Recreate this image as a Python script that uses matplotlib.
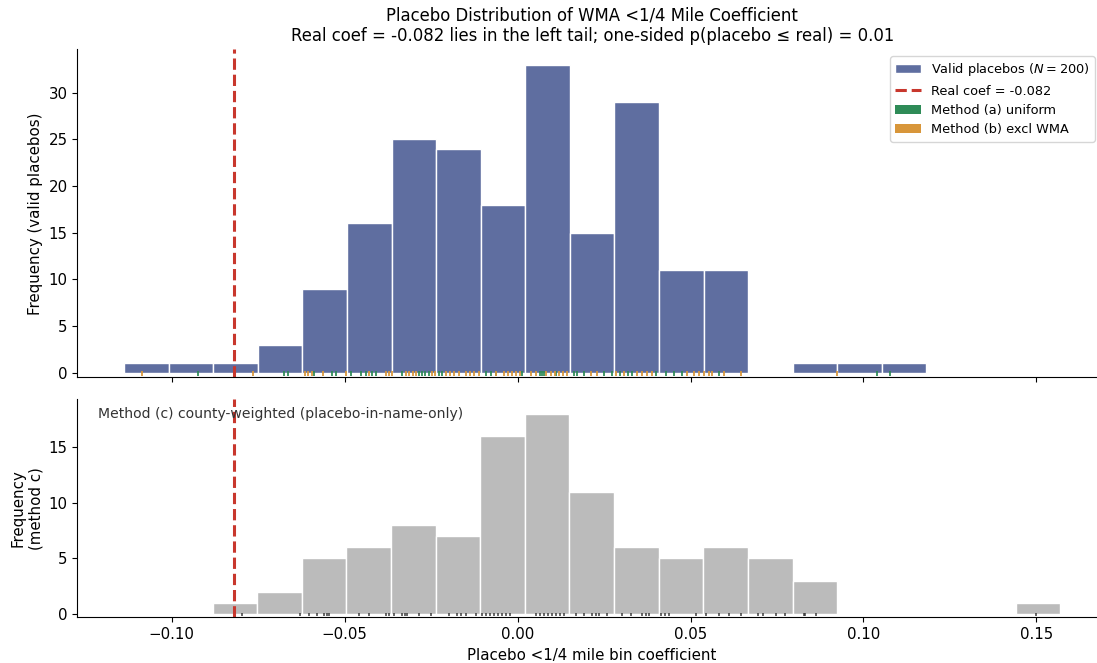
import matplotlib
matplotlib.use('Agg')
import matplotlib.pyplot as plt
import numpy as np
from matplotlib.patches import Patch
from matplotlib.lines import Line2D

# histogram of valid placebos (18 equal bins)
top_lo, top_hi = -0.1138, 0.1182
top_counts = [1, 1, 1, 3, 9, 16, 25, 24, 18, 33, 15, 29, 11, 11, 0, 1, 1, 1]

# method (c) county-weighted histogram (19 equal bins)
bot_lo, bot_hi = -0.0882, 0.1569
bot_counts = [1, 2, 5, 6, 8, 7, 16, 18, 11, 6, 5, 6, 5, 3, 0, 0, 0, 0, 1]

real_coef = -0.082

# rug values
rug_a = [-0.0923, -0.0677, -0.0664, -0.0590, -0.0538, -0.0526, -0.0483, -0.0454,
         -0.0439, -0.0422, -0.0410, -0.0335, -0.0286, -0.0277, -0.0268, -0.0257,
         -0.0228, -0.0219, -0.0092, -0.0077, -0.0063, 0.0012, 0.0065, 0.0070,
         0.0076, 0.0111, 0.0163, 0.0172, 0.0192, 0.0250, 0.0273, 0.0296, 0.0319,
         0.0331, 0.0400, 0.0429, 0.0453, 0.0476, 0.0583, 0.1040, 0.1078]
rug_b = [-0.1087, -0.0766, -0.0616, -0.0607, -0.0596, -0.0564, -0.0497, -0.0431,
         -0.0381, -0.0372, -0.0364, -0.0323, -0.0315, -0.0303, -0.0294, -0.0248,
         -0.0239, -0.0208, -0.0196, -0.0184, -0.0170, -0.0150, -0.0138, -0.0127,
         -0.0112, -0.0063, -0.0040, -0.0028, -0.0017, -0.0005, 0.0007, 0.0039,
         0.0053, 0.0082, 0.0096, 0.0108, 0.0120, 0.0131, 0.0143, 0.0212, 0.0230,
         0.0285, 0.0308, 0.0345, 0.0360, 0.0374, 0.0389, 0.0490, 0.0511, 0.0525,
         0.0540, 0.0554, 0.0563, 0.0598, 0.0647, 0.0924]
rug_c = [-0.0797, -0.0628, -0.0604, -0.0581, -0.0561, -0.0552, -0.0546, -0.0459,
         -0.0431, -0.0381, -0.0372, -0.0358, -0.0335, -0.0326, -0.0320, -0.0286,
         -0.0251, -0.0199, -0.0176, -0.0164, -0.0150, -0.0121, -0.0103, -0.0092,
         -0.0080, -0.0069, -0.0057, -0.0045, -0.0034, -0.0022, 0.0053, 0.0065,
         0.0076, 0.0088, 0.0099, 0.0111, 0.0122, 0.0134, 0.0169, 0.0192, 0.0215,
         0.0227, 0.0235, 0.0259, 0.0302, 0.0328, 0.0360, 0.0371, 0.0380, 0.0415,
         0.0427, 0.0438, 0.0516, 0.0545, 0.0583, 0.0612, 0.0647, 0.0696, 0.0710,
         0.0748, 0.0774, 0.0827, 0.0832, 0.0864, 0.1498]

blue = '#5f6ea0'
red = '#c8372d'
green = '#2e8b57'
orange = '#d8963a'
grey = '#bbbbbb'


def rug(ax, vals, color, y0, y1, lw=1.4, alpha=0.9):
    trans = ax.get_xaxis_transform()
    ax.vlines(vals, y0, y1, colors=color, lw=lw, alpha=alpha, transform=trans)


def main():
    fig = plt.figure(figsize=(10.97, 6.63), dpi=100)
    W, H = 1097.0, 663.0
    ax1 = fig.add_axes([77.3/W, 1-377.3/H, (1107-77.3)/W, (377.3-49.3)/H])
    ax2 = fig.add_axes([77.3/W, 1-617.3/H, (1107-77.3)/W, (617.3-399.3)/H], sharex=ax1)

    edges1 = np.linspace(top_lo, top_hi, len(top_counts)+1)
    ax1.hist(edges1[:-1], bins=edges1, weights=top_counts, color=blue,
             edgecolor='white', linewidth=1)
    rug(ax1, rug_a, green, 0.004, 0.019)
    rug(ax1, rug_b, orange, 0.004, 0.019)
    ax1.axvline(real_coef, color=red, ls='--', lw=2.2)
    ax1.set_ylim(-0.5, 34.65)
    ax1.set_ylabel('Frequency (valid placebos)', fontsize=10.8)
    ax1.set_title('Placebo Distribution of WMA <1/4 Mile Coefficient\n'
                  'Real coef = -0.082 lies in the left tail; one-sided p(placebo \u2264 real) = 0.01',
                  fontsize=11.9)
    ax1.tick_params(labelbottom=False)

    handles = [Patch(facecolor=blue, edgecolor='white', label='Valid placebos ($N = 200$)'),
               Line2D([0], [0], color=red, ls='--', lw=2.2, label='Real coef = -0.082'),
               Patch(facecolor=green, label='Method (a) uniform'),
               Patch(facecolor=orange, label='Method (b) excl WMA')]
    ax1.legend(handles=handles, loc='upper right', fontsize=9.25,
               bbox_to_anchor=(1095/W, 1-56/H), bbox_transform=fig.transFigure,
               borderaxespad=0)

    edges2 = np.linspace(bot_lo, bot_hi, len(bot_counts)+1)
    ax2.hist(edges2[:-1], bins=edges2, weights=bot_counts, color=grey,
             edgecolor='white', linewidth=1)
    rug(ax2, rug_c, '#333333', 0.005, 0.02, lw=1.3, alpha=0.8)
    ax2.axvline(real_coef, color=red, ls='--', lw=2.2)
    ax2.set_ylim(-0.3, 19.3)
    ax2.set_ylabel('Frequency\n(method c)', fontsize=10.8)
    ax2.set_xlabel('Placebo <1/4 mile bin coefficient', fontsize=10.8)
    ax2.text(0.02, 0.965, 'Method (c) county-weighted (placebo-in-name-only)',
             transform=ax2.transAxes, ha='left', va='top', fontsize=10.1, color='#333333')

    for ax in (ax1, ax2):
        ax.spines['top'].set_visible(False)
        ax.spines['right'].set_visible(False)
        ax.tick_params(labelsize=10.8)

    fig.savefig('out.png', dpi=100)


if __name__ == "__main__":
    main()
